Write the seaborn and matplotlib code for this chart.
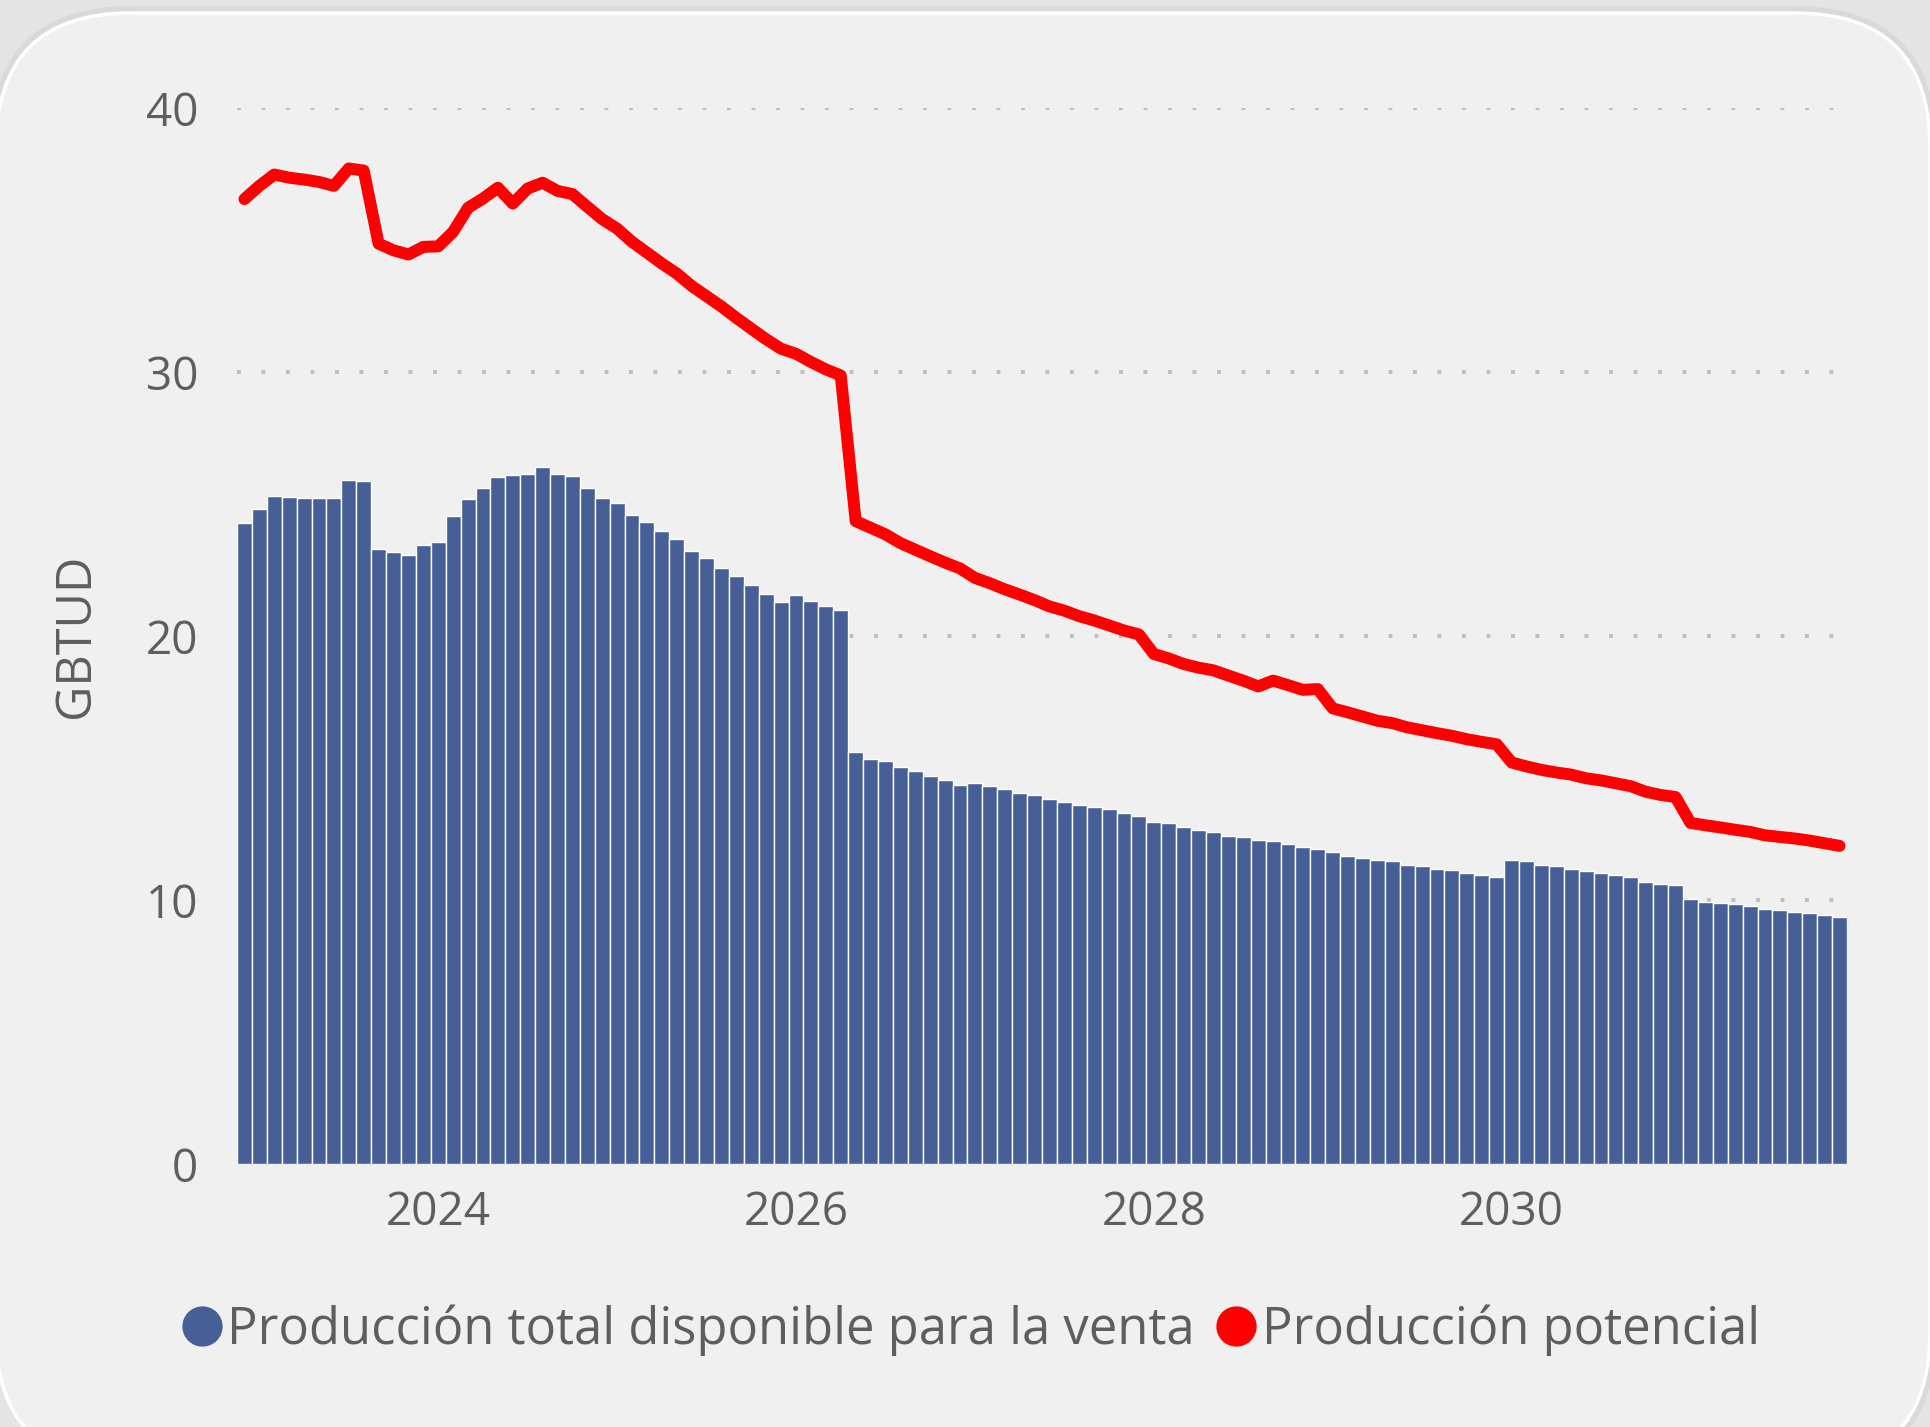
import numpy as np
import pandas as pd
import matplotlib
matplotlib.use("Agg")
import matplotlib.pyplot as plt
from matplotlib.patches import FancyBboxPatch
from matplotlib.lines import Line2D
from matplotlib.transforms import IdentityTransform
import seaborn as sns

# Monthly series, Dec 2022 .. Nov 2031 (GBTUD)
months = pd.date_range("2022-12-01", periods=108, freq="MS").strftime("%Y-%m").tolist()

venta = [
    24.27, 24.80, 25.30, 25.26, 25.22, 25.22, 25.22, 25.90, 25.87, 23.30,
    23.17, 23.05, 23.44, 23.55, 24.54, 25.18, 25.60, 26.02, 26.09, 26.13,
    26.40, 26.13, 26.06, 25.60, 25.22, 25.03, 24.58, 24.31, 23.97, 23.67,
    23.21, 22.95, 22.57, 22.26, 21.93, 21.59, 21.28, 21.54, 21.31, 21.13,
    20.97, 15.59, 15.36, 15.25, 15.02, 14.87, 14.68, 14.53, 14.34, 14.45,
    14.30, 14.19, 14.07, 13.96, 13.81, 13.73, 13.58, 13.54, 13.43, 13.31,
    13.20, 12.97, 12.90, 12.78, 12.67, 12.59, 12.44, 12.40, 12.29, 12.25,
    12.14, 12.02, 11.95, 11.80, 11.68, 11.61, 11.53, 11.46, 11.34, 11.30,
    11.19, 11.15, 11.04, 10.96, 10.89, 11.53, 11.46, 11.34, 11.27, 11.19,
    11.08, 11.04, 10.93, 10.89, 10.70, 10.62, 10.58, 10.02, 9.94, 9.90,
    9.83, 9.79, 9.67, 9.64, 9.56, 9.52, 9.45, 9.37,
]

potencial = [
    36.55, 37.05, 37.48, 37.36, 37.29, 37.20, 37.05, 37.71, 37.63, 34.86,
    34.61, 34.45, 34.74, 34.76, 35.31, 36.22, 36.57, 36.98, 36.38, 36.95,
    37.17, 36.86, 36.74, 36.26, 35.79, 35.43, 34.93, 34.52, 34.11, 33.73,
    33.26, 32.87, 32.48, 32.05, 31.64, 31.24, 30.88, 30.69, 30.38, 30.10,
    29.87, 24.35, 24.10, 23.85, 23.52, 23.27, 23.02, 22.78, 22.56, 22.20,
    22.00, 21.77, 21.57, 21.36, 21.12, 20.96, 20.75, 20.59, 20.40, 20.21,
    20.06, 19.32, 19.15, 18.94, 18.80, 18.70, 18.50, 18.31, 18.09, 18.31,
    18.14, 17.96, 17.99, 17.26, 17.11, 16.95, 16.79, 16.70, 16.54, 16.43,
    16.32, 16.22, 16.09, 15.99, 15.90, 15.21, 15.06, 14.93, 14.83, 14.75,
    14.61, 14.53, 14.42, 14.31, 14.10, 13.98, 13.90, 12.92, 12.83, 12.75,
    12.66, 12.58, 12.45, 12.39, 12.33, 12.25, 12.15, 12.05,
]

year_ticks = ["2024", "2026", "2028", "2030"]
y_ticks = [0, 10, 20, 30, 40]
label_venta = "Producción total disponible para la venta"
label_pot = "Producción potencial"

BLUE = "#475F97"
RED = "#FF0000"
TEXT = "#605E5C"
CARD = "#F0F0F0"

sns.set_theme(style="white")
plt.rcParams["font.family"] = ["Open Sans", "DejaVu Sans"]

df = pd.DataFrame({"month": months, "venta": venta, "potencial": potencial})
df["pos"] = np.arange(len(df))

fig = plt.figure(figsize=(19.31, 14.27), dpi=100)
fig.patch.set_facecolor("#E4E4E4")

# Rounded card behind the chart (pixel coordinates).
shadow = FancyBboxPatch((-4, -40), 1934, 1454, boxstyle="round,pad=0,rounding_size=135",
                        transform=IdentityTransform(), facecolor="none",
                        edgecolor="#D2D2D2", linewidth=10, alpha=0.6, zorder=-3)
card = FancyBboxPatch((-4, -40), 1934, 1454, boxstyle="round,pad=0,rounding_size=135",
                      transform=IdentityTransform(), facecolor=CARD,
                      edgecolor="white", linewidth=2.5, zorder=-2)
fig.patches.extend([shadow, card])

ax = fig.add_axes([0.12273, 0.18430, 0.83377, 0.74001])
ax.set_facecolor("none")
ax.set_zorder(2)

sns.barplot(data=df, x="month", y="venta", color=BLUE, width=1.0, saturation=1,
            edgecolor="white", linewidth=1.0, ax=ax, zorder=2)
sns.lineplot(data=df, x="pos", y="potencial", color=RED, linewidth=8.6, ax=ax,
             zorder=3, solid_capstyle="round", solid_joinstyle="round")

ax.set_ylim(0, 40)
ax.set_xlim(-0.5, len(df) - 0.5)
ax.set_yticks(y_ticks)
ax.set_yticklabels([str(v) for v in y_ticks])
tick_pos = [months.index(y + "-01") for y in year_ticks]
ax.set_xticks(tick_pos)
ax.set_xticklabels(year_ticks)
ax.tick_params(axis="both", length=0, labelsize=33, labelcolor=TEXT)
ax.tick_params(axis="y", pad=28)
ax.tick_params(axis="x", pad=19)

ax.yaxis.grid(True, color="#BEBEBE", linewidth=2.8, linestyle=(0, (1, 5.3)), zorder=1)
ax.xaxis.grid(False)
ax.set_axisbelow(True)
sns.despine(ax=ax, left=True, bottom=True)

ax.set_xlabel("")
ax.set_ylabel("GBTUD", fontsize=35, color=TEXT, labelpad=32)

handles = [
    Line2D([], [], marker="o", linestyle="none", markersize=28, color=BLUE),
    Line2D([], [], marker="o", linestyle="none", markersize=28, color=RED),
]
fig.legend(handles, [label_venta, label_pot], loc="center", bbox_to_anchor=(0.503, 0.068),
           ncol=2, frameon=False, fontsize=36.5, handletextpad=0.12, columnspacing=0.45,
           handlelength=0.75, labelcolor=TEXT)

fig.savefig("out.png", dpi=100, facecolor=fig.get_facecolor())
plt.close(fig)
